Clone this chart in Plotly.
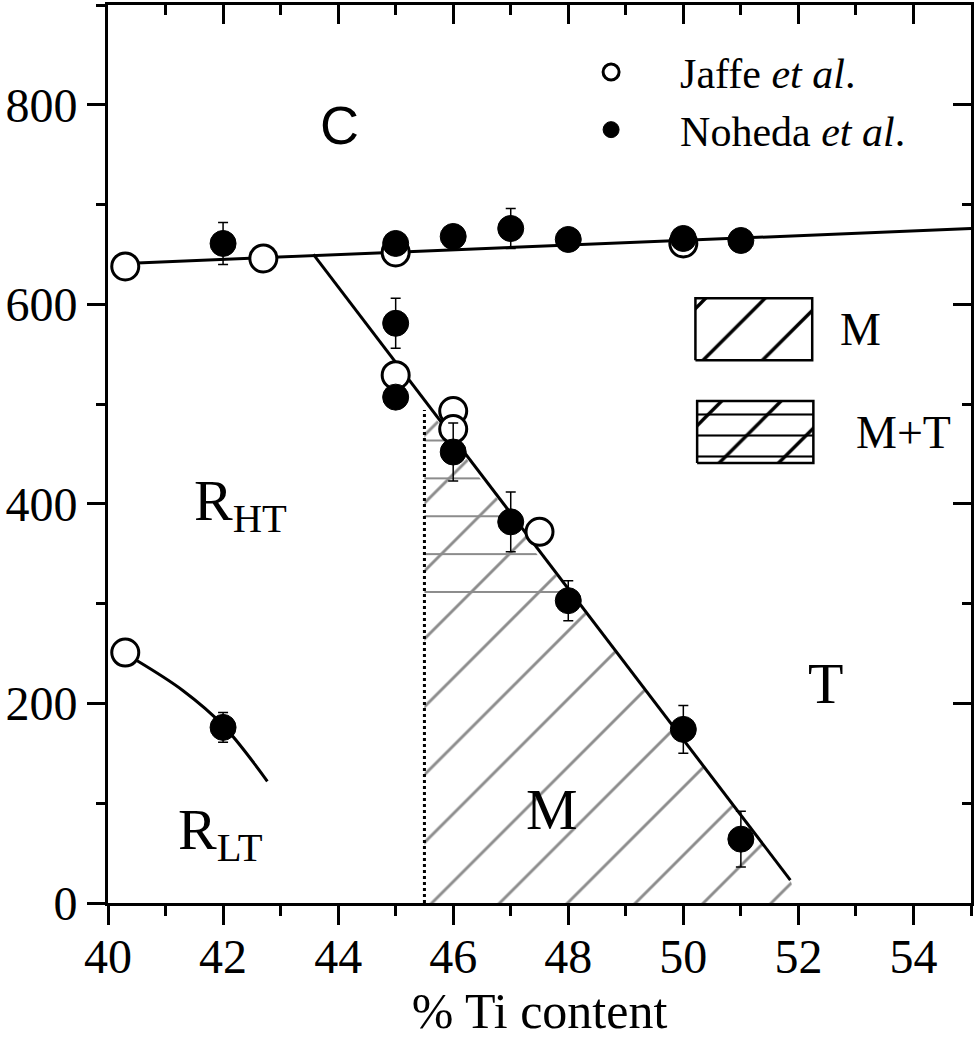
import plotly.graph_objects as go

# Jaffe et al. (open circles)
jaffe_x = [40.3, 42.7, 45.0, 45.0, 46.0, 46.0, 47.5, 50.0, 40.3]
jaffe_y = [638, 646, 652, 529, 493, 475, 372, 661, 251]

# Noheda et al. (filled circles, with error bars)
noheda_x = [42, 42, 45, 45, 45, 46, 46, 47, 47, 48, 48, 50, 50, 51, 51]
noheda_y = [661, 176, 661, 581, 507, 668, 452, 676, 382, 665, 303, 666, 174, 664, 64]
noheda_err = [21, 15, 6, 25, 6, 6, 29, 20, 30, 6, 20, 6, 24, 6, 28]

# phase boundaries
c_line_x = [40.3, 55.0]
c_line_y = [641, 676]
mpb_x = [43.57, 51.86]
mpb_y = [650, 23]
rlt_x = [40.5, 41.3, 42.0, 42.77]
rlt_y = [243, 213, 178, 122]
dotted_x = [45.5, 45.5]
dotted_y = [0, 494]

# hatched regions (M, and M+T on top)
m_x = [45.5, 45.5, 51.86, 52.0, 45.5]
m_y = [0, 500, 23, 0, 0]
mt_x = [45.5, 45.5, 48.1, 45.5]
mt_y = [300, 500, 300, 300]

# legend keys for the hatched regions
key_m_x = [50.21, 52.24, 52.24, 50.21, 50.21]
key_m_y = [544, 544, 606, 606, 544]
key_mt_x = [50.24, 52.26, 52.26, 50.24, 50.24]
key_mt_y = [441, 441, 503, 503, 441]

SERIF = "Liberation Serif, Times New Roman, serif"
HATCH = "#8c8c8c"


def hatch(shape, size, solidity, color):
    return dict(shape=shape, size=size, solidity=solidity, fgcolor=color,
                fgopacity=1, fillmode="overlay")


fig = go.Figure()

fig.add_trace(go.Scatter(
    x=m_x, y=m_y, mode="lines", fill="toself", line=dict(width=0),
    fillcolor="rgba(0,0,0,0)", fillpattern=hatch("/", 48, 0.06, HATCH),
    showlegend=False, hoverinfo="skip",
))
fig.add_trace(go.Scatter(
    x=mt_x, y=mt_y, mode="lines", fill="toself", line=dict(width=0),
    fillcolor="rgba(0,0,0,0)", fillpattern=hatch("-", 37.87, 0.05, HATCH),
    showlegend=False, hoverinfo="skip",
))

# legend boxes
fig.add_trace(go.Scatter(
    x=key_m_x, y=key_m_y, mode="lines", fill="toself", line=dict(width=2.5, color="black"),
    fillcolor="rgba(0,0,0,0)", fillpattern=hatch("/", 42, 0.08, "black"),
    showlegend=False, hoverinfo="skip",
))
fig.add_trace(go.Scatter(
    x=key_mt_x, y=key_mt_y, mode="lines", fill="toself", line=dict(width=0),
    fillcolor="rgba(0,0,0,0)", fillpattern=hatch("-", 21, 0.1, "black"),
    showlegend=False, hoverinfo="skip",
))
fig.add_trace(go.Scatter(
    x=key_mt_x, y=key_mt_y, mode="lines", fill="toself", line=dict(width=2.5, color="black"),
    fillcolor="rgba(0,0,0,0)", fillpattern=hatch("/", 42, 0.08, "black"),
    showlegend=False, hoverinfo="skip",
))

for lx, ly in [(c_line_x, c_line_y), (mpb_x, mpb_y)]:
    fig.add_trace(go.Scatter(x=lx, y=ly, mode="lines", line=dict(color="black", width=3),
                             showlegend=False, hoverinfo="skip"))
fig.add_trace(go.Scatter(x=rlt_x, y=rlt_y, mode="lines",
                         line=dict(color="black", width=3, shape="spline"),
                         showlegend=False, hoverinfo="skip"))
fig.add_trace(go.Scatter(x=dotted_x, y=dotted_y, mode="lines",
                         line=dict(color="black", width=3, dash="dot"),
                         showlegend=False, hoverinfo="skip"))

fig.add_trace(go.Scatter(
    x=jaffe_x, y=jaffe_y, mode="markers", name="Jaffe <i>et al</i>.",
    marker=dict(symbol="circle", size=27, color="white", line=dict(color="black", width=3)),
))
fig.add_trace(go.Scatter(
    x=noheda_x, y=noheda_y, mode="markers", name="Noheda <i>et al</i>.",
    marker=dict(symbol="circle", size=26, color="black", line=dict(color="black", width=1)),
    error_y=dict(type="data", array=noheda_err, color="black", thickness=1.5, width=5),
))

# empty trace so the mirrored top/right axes get drawn
fig.add_trace(go.Scatter(x=[], y=[], xaxis="x2", yaxis="y2", showlegend=False))

labels = [
    (44.03, 780, "C", "Liberation Sans, Arial, sans-serif", 54),
    (42.3, 399, "R<sub>HT</sub>", SERIF, 58),
    (41.95, 70, "R<sub>LT</sub>", SERIF, 58),
    (52.47, 220, "T", SERIF, 58),
    (47.72, 94, "M", SERIF, 58),
    (53.08, 575, "M", SERIF, 46),
    (53.82, 472, "M+T", SERIF, 46),
]
for lx, ly, txt, fam, sz in labels:
    fig.add_annotation(x=lx, y=ly, text=txt, showarrow=False,
                       font=dict(family=fam, size=sz, color="black"))

axis_common = dict(showline=True, linecolor="black", linewidth=3, showgrid=False,
                   zeroline=False, tickcolor="black", tickwidth=2.5, automargin=False)

fig.update_layout(
    width=976, height=1050,
    margin=dict(l=108, r=5, t=5, b=147),
    plot_bgcolor="white", paper_bgcolor="white",
    font=dict(family=SERIF, size=48, color="black"),
    xaxis=dict(
        range=[40, 55], dtick=2, tick0=40, ticks="outside", ticklen=19,
        minor=dict(dtick=1, ticks="outside", ticklen=10, tickcolor="black", tickwidth=2.5),
        title=dict(text="% Ti content", font=dict(size=50), standoff=0),
        tickfont=dict(size=48), ticklabelstandoff=-10, **axis_common,
    ),
    yaxis=dict(
        range=[0, 900], dtick=200, tick0=0, ticks="outside", ticklen=18,
        minor=dict(dtick=100, ticks="outside", ticklen=9, tickcolor="black", tickwidth=2.5),
        tickfont=dict(size=48), ticklabelstandoff=0, **axis_common,
    ),
    xaxis2=dict(
        overlaying="x", side="top", range=[40, 55], dtick=2, tick0=40,
        ticks="inside", ticklen=19, showticklabels=False,
        minor=dict(dtick=1, ticks="inside", ticklen=10, tickcolor="black", tickwidth=2.5),
        **axis_common,
    ),
    yaxis2=dict(
        overlaying="y", side="right", range=[0, 900], dtick=200, tick0=0,
        ticks="inside", ticklen=18, showticklabels=False,
        minor=dict(dtick=100, ticks="inside", ticklen=9, tickcolor="black", tickwidth=2.5),
        **axis_common,
    ),
    legend=dict(
        x=0.503, y=0.963, xanchor="left", yanchor="top",
        font=dict(family=SERIF, size=42), bgcolor="rgba(0,0,0,0)",
        itemwidth=128, tracegroupgap=0,
    ),
)

# page body has a default 8px margin; drop it so the figure sits at the corner
fig.write_html("out.html", config={"displayModeBar": False},
               post_script="document.body.style.margin='0';")
